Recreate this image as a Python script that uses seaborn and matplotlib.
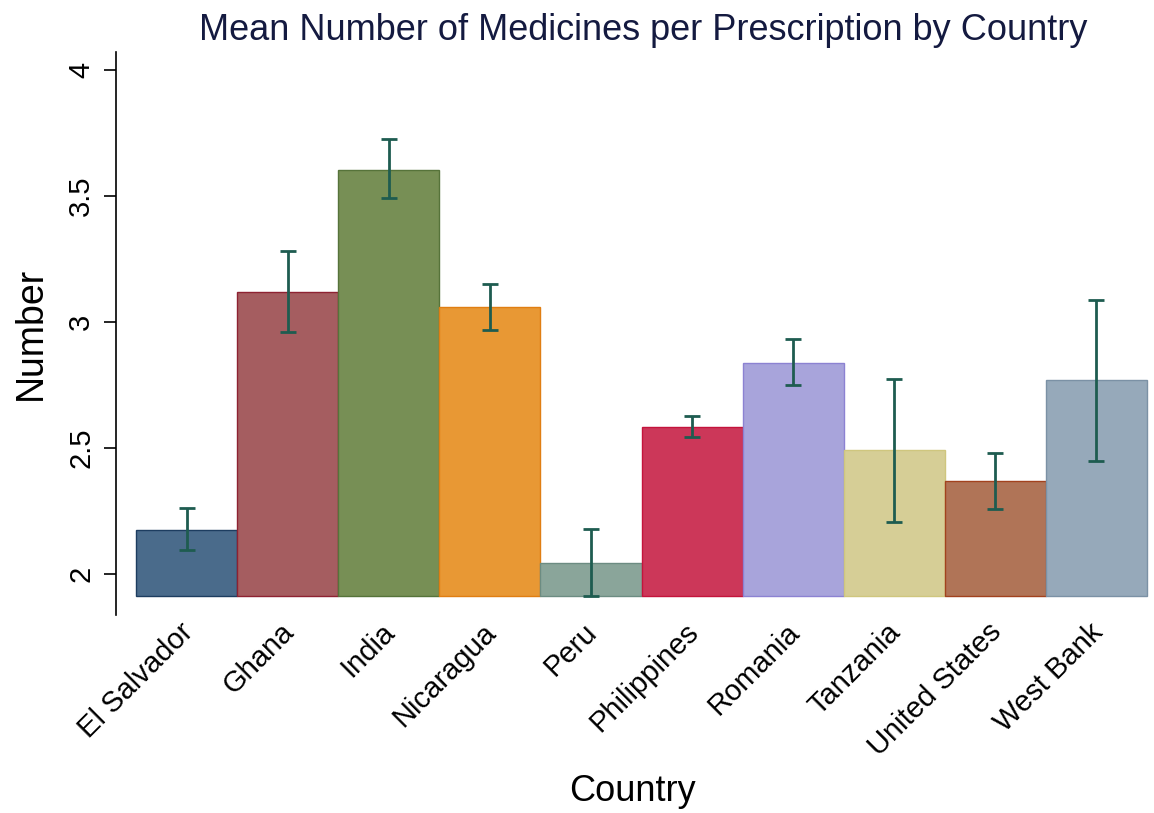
import pandas as pd
import numpy as np
import matplotlib
matplotlib.use("Agg")
import matplotlib.pyplot as plt
import matplotlib.transforms as mtransforms
import seaborn as sns

# ---------------------------------------------------------
# Data
# ---------------------------------------------------------
countries = ["El Salvador", "Ghana", "India", "Nicaragua", "Peru",
             "Philippines", "Romania", "Tanzania", "United States", "West Bank"]
means = [2.175, 3.119, 3.603, 3.060, 2.044, 2.583, 2.837, 2.492, 2.369, 2.770]
ci_low = [2.095, 2.960, 3.492, 2.968, 1.913, 2.544, 2.750, 2.206, 2.258, 2.448]
ci_high = [2.262, 3.282, 3.726, 3.151, 2.179, 2.627, 2.933, 2.774, 2.480, 3.087]
fill_colors = ["#4a6b8b", "#a55d60", "#778f55", "#e89834", "#8aa59a",
               "#cc3759", "#a8a4db", "#d6ce96", "#b07457", "#96a9ba"]
edge_colors = ["#1d3d60", "#8e2232", "#56733a", "#e07e12", "#6c8c82",
               "#c4143c", "#8c82d2", "#cfc67e", "#a2421e", "#7b91a5"]
y_ticks = [2, 2.5, 3, 3.5, 4]
y_tick_labels = ["2", "2.5", "3", "3.5", "4"]

# bars start at the lowest interval value, as in the original Stata graph
base = min(ci_low)

df = pd.DataFrame({"Country": countries, "Mean": means,
                   "Low": ci_low, "High": ci_high})
df["Height"] = df["Mean"] - base

sns.set_style("white")
plt.rcParams["font.family"] = ["Liberation Sans", "DejaVu Sans"]
plt.rcParams["text.color"] = "black"
plt.rcParams["axes.labelcolor"] = "black"
plt.rcParams["xtick.color"] = "black"
plt.rcParams["ytick.color"] = "black"

fig = plt.figure(figsize=(11.54, 8.13), dpi=100)
ax = fig.add_axes([0.1005, 0.2435, 0.8960, 0.6925])

sns.barplot(data=df, x="Country", y="Height", hue="Country",
            palette=fill_colors, width=1.0, errorbar=None, legend=False,
            bottom=base, linewidth=1.0, saturation=1, ax=ax)

for patch, ec in zip(ax.patches, edge_colors):
    patch.set_edgecolor(ec)

xpos = np.arange(len(countries))
ax.errorbar(xpos, df["Mean"],
            yerr=[df["Mean"] - df["Low"], df["High"] - df["Mean"]],
            fmt="none", ecolor="#1e5c50", elinewidth=2, capsize=6,
            capthick=2, zorder=5)

ax.set_xlim(-0.7, 9.53)
ax.set_ylim(1.837, 4.071)
ax.set_yticks(y_ticks)
ax.set_yticklabels(y_tick_labels, rotation=90, va="center", fontsize=21)
ax.set_xticks(xpos)
ax.set_xticklabels(countries, rotation=45, ha="right",
                   rotation_mode="anchor", fontsize=21)
ax.tick_params(axis="x", length=0, pad=2)
ax.tick_params(axis="y", length=9, width=1.2, direction="out", pad=6,
               left=True)

# nudge the slanted country names a little to the left
shift = mtransforms.ScaledTranslation(-8 / 100, 0, fig.dpi_scale_trans)
for label in ax.get_xticklabels():
    label.set_transform(label.get_transform() + shift)

sns.despine(ax=ax, top=True, right=True, bottom=True)
ax.spines["left"].set_linewidth(1.2)
ax.spines["left"].set_color("black")

ax.set_title("Mean Number of Medicines per Prescription by Country",
             fontsize=26, color="#141a40", pad=9, x=0.51)
ax.set_xlabel("Country", fontsize=26)
ax.xaxis.set_label_coords(0.5, -0.283)
ax.set_ylabel("Number", fontsize=27)
ax.yaxis.set_label_coords(-0.065, 0.5)

fig.savefig("out.png", dpi=100)
